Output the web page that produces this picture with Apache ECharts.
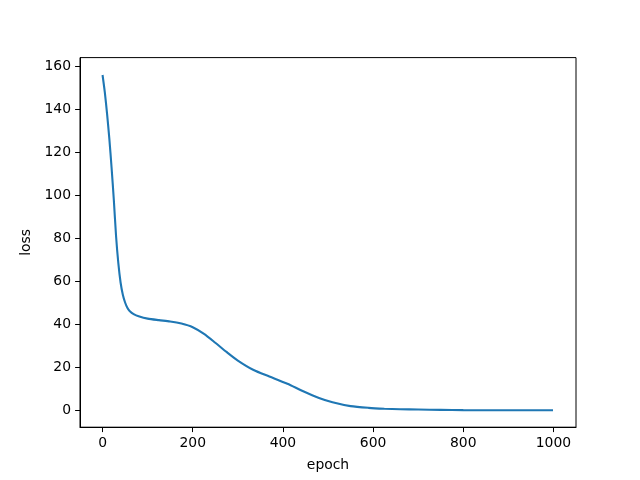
<!DOCTYPE html>
<html>
<head>
<meta charset="utf-8">
<script src="https://cdn.jsdelivr.net/npm/echarts@6/dist/echarts.min.js"></script>
<style>html,body{margin:0;padding:0;background:#fff}#c{width:640px;height:480px}</style>
</head>
<body>
<div id="c"></div>
<script>
const epochs = [0, 5, 10, 15, 20, 25, 30, 35, 40, 45, 50, 55, 60, 70, 80, 100, 125, 150, 175, 200, 225, 250, 275, 300, 335, 370, 410, 445, 480, 510, 550, 590, 625, 660, 700, 750, 800, 900, 999];
const loss = [156, 148, 138, 126.5, 113, 98, 81, 68.5, 59.5, 53.8, 50.2, 47.8, 46.3, 44.7, 43.8, 42.7, 42, 41.4, 40.4, 38.7, 35.6, 31.5, 27.2, 23.2, 18.8, 15.8, 12.4, 8.9, 5.8, 3.8, 2.0, 1.2, 0.8, 0.55, 0.4, 0.25, 0.15, 0.08, 0.05];
const xTicks = [0, 200, 400, 600, 800, 1000];
const yTicks = [0, 20, 40, 60, 80, 100, 120, 140, 160];

const font = 'DejaVu Sans';
const chart = echarts.init(document.getElementById('c'), null, {renderer: 'canvas'});
chart.setOption({
  animation: false,
  backgroundColor: '#fff',
  grid: {left: 80, right: 64, top: 57.6, bottom: 52.8, show: true, borderColor: '#000', borderWidth: 1, backgroundColor: '#fff', containLabel: false, outerBoundsMode: 'none'},
  xAxis: {
    type: 'value', min: -50, max: 1050,
    name: 'epoch', nameLocation: 'middle', nameGap: 31,
    nameTextStyle: {fontFamily: font, fontSize: 13.9, color: '#000'},
    axisLine: {show: true, onZero: false, lineStyle: {color: '#000', width: 1}},
    axisTick: {show: true, length: 4.9, customValues: xTicks, lineStyle: {color: '#000', width: 1}},
    axisLabel: {customValues: xTicks, margin: 9, fontFamily: font, fontSize: 13.9, color: '#000', formatter: v => String(v)},
    splitLine: {show: false}
  },
  yAxis: {
    type: 'value', min: -7.8, max: 164.1,
    name: 'loss', nameLocation: 'middle', nameGap: 40, nameRotate: 90,
    nameTextStyle: {fontFamily: font, fontSize: 13.9, color: '#000'},
    axisLine: {show: true, onZero: false, lineStyle: {color: '#000', width: 1}},
    axisTick: {show: true, length: 4.9, customValues: yTicks, lineStyle: {color: '#000', width: 1}},
    axisLabel: {customValues: yTicks, margin: 9, fontFamily: font, fontSize: 13.9, color: '#000', formatter: v => String(v)},
    splitLine: {show: false}
  },
  series: [{
    type: 'line',
    data: epochs.map((e, i) => [e, loss[i]]),
    showSymbol: false,
    smooth: 0.25,
    lineStyle: {color: '#1f77b4', width: 2.1},
    clip: true
  }]
});
</script>
</body>
</html>
